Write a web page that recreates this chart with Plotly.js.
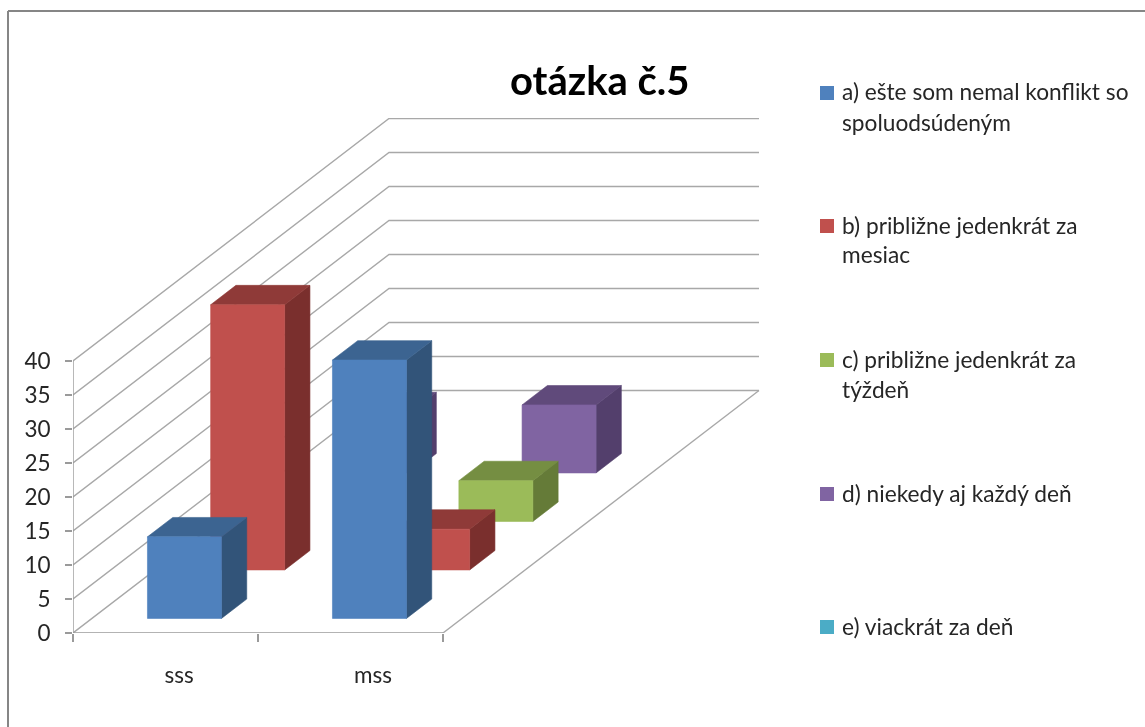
<!DOCTYPE html>
<html><head><meta charset="utf-8">
<script src="https://cdn.plot.ly/plotly-3.0.1.min.js"></script>
<style>html,body{margin:0;padding:0;background:#fff;overflow:hidden}#c{filter:blur(0.4px)}</style>
</head><body><div id="c" style="width:1145px;height:727px"></div>
<script>
// ---- data ----
const categories = ['sss', 'mss'];
const chartTitle = 'otázka č.5';
const valueTicks = [0, 5, 10, 15, 20, 25, 30, 35, 40];
const seriesA = [12, 38];
const seriesB = [39, 6];
const seriesC = [0, 6];
const seriesD = [9, 10];
const seriesE = [0, 0];
const labelA = ['a) ešte som nemal konflikt so', 'spoluodsúdeným'];
const labelB = ['b) približne jedenkrát za', 'mesiac'];
const labelC = ['c) približne jedenkrát za', 'týždeň'];
const labelD = ['d) niekedy aj každý deň'];
const labelE = ['e) viackrát za deň'];

const series = [
  {v: seriesA, lab: labelA, front: '#4F81BD', top: '#3C6491', side: '#325479', ly: 93},
  {v: seriesB, lab: labelB, front: '#C0504D', top: '#8F3A38', side: '#7A2F2D', ly: 226},
  {v: seriesC, lab: labelC, front: '#9BBB59', top: '#758E42', side: '#657B38', ly: 360},
  {v: seriesD, lab: labelD, front: '#8064A2', top: '#604A7B', side: '#533F6C', ly: 494},
  {v: seriesE, lab: labelE, front: '#4BACC6', top: '#38829A', side: '#2F6E82', ly: 627}
];

// oblique projection of the 3D chart onto the 2D axes
const PL = 73, PR = 761, PT = 118, PB = 633, W = 1145, H = 727;
const catPx = 185, unitPx = 6.8, rowX = 63.2, rowY = 48.5;
const dx = rowX / catPx, dy = rowY / unitPx;
const rows = series.length, yMax = valueTicks[valueTicks.length - 1];
const proj = (c, v, d) => [c + d * dx, v + d * dy];
const GAP = 0.3, SIZE = 0.4;

const traces = [];
// walls and floor
const gx = [], gy = [];
const seg = (pts) => { pts.forEach(p => { gx.push(p[0]); gy.push(p[1]); }); gx.push(null); gy.push(null); };
valueTicks.forEach(v => seg([proj(0, v, 0), proj(0, v, rows), proj(categories.length, v, rows)]));
seg([proj(categories.length, 0, 0), proj(categories.length, 0, rows)]);
traces.push({x: gx, y: gy, mode: 'lines', line: {color: '#A8A8A8', width: 1.4}, hoverinfo: 'skip', showlegend: false});
// front axis lines
traces.push({x: [0, 0, null, 0, categories.length], y: [0, yMax, null, 0, 0], mode: 'lines',
  line: {color: '#9A9A9A', width: 1.4}, hoverinfo: 'skip', showlegend: false, cliponaxis: false});

// bars, back row first
for (let r = rows - 1; r >= 0; r--) {
  const s = series[r];
  const faces = {side: [[], []], top: [[], []], front: [[], []]};
  const add = (f, pts) => { pts.concat([pts[0]]).forEach(p => { faces[f][0].push(p[0]); faces[f][1].push(p[1]); }); faces[f][0].push(null); faces[f][1].push(null); };
  s.v.forEach((val, i) => {
    if (!val) return;
    const c0 = i + GAP, c1 = c0 + SIZE, d0 = r + GAP, d1 = d0 + SIZE;
    add('side', [proj(c1, 0, d0), proj(c1, 0, d1), proj(c1, val, d1), proj(c1, val, d0)]);
    add('top', [proj(c0, val, d0), proj(c1, val, d0), proj(c1, val, d1), proj(c0, val, d1)]);
    add('front', [proj(c0, 0, d0), proj(c1, 0, d0), proj(c1, val, d0), proj(c0, val, d0)]);
  });
  ['side', 'top', 'front'].forEach(f => {
    if (!faces[f][0].length) return;
    traces.push({x: faces[f][0], y: faces[f][1], mode: 'lines', fill: 'toself', fillcolor: s[f],
      line: {color: s[f], width: 0.6}, hoverinfo: 'skip', showlegend: false, name: s.lab.join(' ')});
  });
}

const px = x => (x - PL) / (PR - PL);
const py = y => (PB - y) / (PB - PT);
const font = 'Lato, "Open Sans", sans-serif';

// legend drawn as text + swatch
const annotations = [{xref: 'paper', yref: 'paper', x: px(600), y: py(80), text: '<b>' + chartTitle + '</b>', showarrow: false,
  xanchor: 'center', yanchor: 'middle', font: {family: font, size: 40, color: '#000'}}];
const shapes = [
  {type: 'line', xref: 'paper', yref: 'paper', x0: px(8), x1: px(W + 5), y0: py(11), y1: py(11), line: {color: '#868686', width: 2}},
  {type: 'line', xref: 'paper', yref: 'paper', x0: px(8), x1: px(8), y0: py(11), y1: py(H + 5), line: {color: '#868686', width: 2}}
];
series.forEach(s => {
  shapes.push({type: 'rect', xref: 'paper', yref: 'paper', x0: px(820), x1: px(834), y0: py(s.ly - 7), y1: py(s.ly + 7),
    fillcolor: s.front, line: {width: 0}});
  s.lab.forEach((t, i) => annotations.push({xref: 'paper', yref: 'paper', x: px(840), y: py(s.ly - 1 + i * 30), text: t, showarrow: false,
    xanchor: 'left', yanchor: 'middle', font: {family: font, size: 22.7, color: '#262626'}}));
});

Plotly.newPlot('c', traces, {
  width: W, height: H, showlegend: false, paper_bgcolor: '#fff', plot_bgcolor: 'rgba(0,0,0,0)',
  margin: {l: PL, r: W - PR, t: PT, b: H - PB, pad: 0},
  xaxis: {range: [0, (PR - PL) / catPx], showgrid: false, zeroline: false, showline: false,
    tickmode: 'array', tickvals: [0.573, 1.622], ticktext: categories, ticks: '', ticklabelstandoff: 26,
    tickfont: {family: font, size: 22.5, color: '#262626'},
    minor: {tickmode: 'array', tickvals: [0, 1, 2], ticks: 'outside', ticklen: 8, tickwidth: 1.4, tickcolor: '#9A9A9A', showgrid: false}},
  yaxis: {range: [0, (PB - PT) / unitPx], showgrid: false, zeroline: false, showline: false,
    tickmode: 'array', tickvals: valueTicks, ticks: 'outside', ticklen: 7, tickwidth: 1.4, tickcolor: '#9A9A9A',
    ticklabelstandoff: 10, tickfont: {family: font, size: 22.5, color: '#262626'}},
  shapes, annotations
}, {displayModeBar: false, staticPlot: true});
</script></body></html>
